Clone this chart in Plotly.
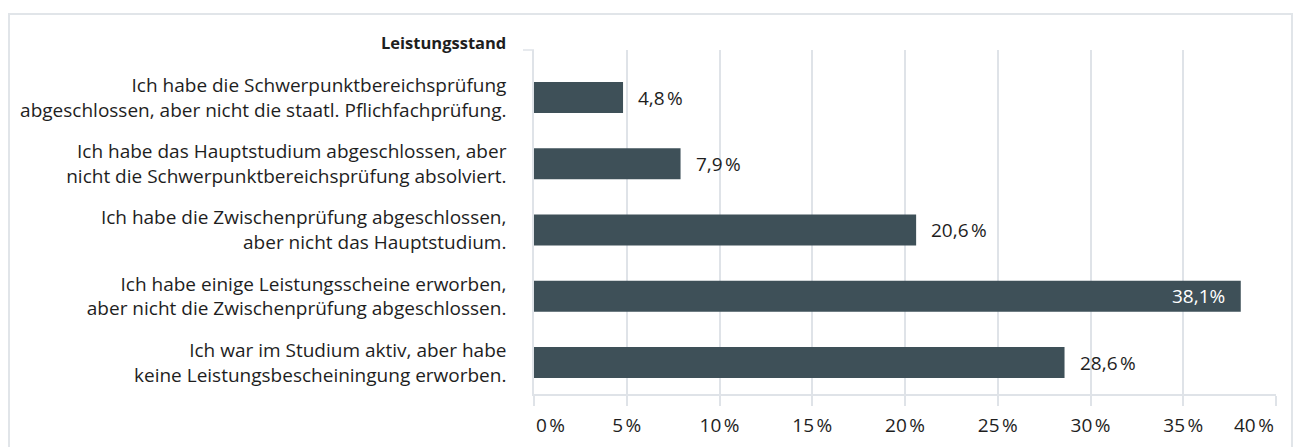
import plotly.graph_objects as go

# Survey result: progress of studies at time of dropout
categories = [
    "Ich habe die Schwerpunktbereichsprüfung<br>abgeschlossen, aber nicht die staatl. Pflichfachprüfung.",
    "Ich habe das Hauptstudium abgeschlossen, aber<br>nicht die Schwerpunktbereichsprüfung absolviert.",
    "Ich habe die Zwischenprüfung abgeschlossen,<br>aber nicht das Hauptstudium.",
    "Ich habe einige Leistungsscheine erworben,<br>aber nicht die Zwischenprüfung abgeschlossen.",
    "Ich war im Studium aktiv, aber habe<br>keine Leistungsbescheiningung erworben.",
]
values = [4.8, 7.9, 20.6, 38.1, 28.6]
value_labels = ["4,8\u202f%", "7,9\u202f%", "20,6\u202f%", "38,1%", "28,6\u202f%"]
inside_label = [False, False, False, True, False]

x_ticks = [0, 5, 10, 15, 20, 25, 30, 35, 40]
x_ticklabels = ["0\u202f%", "5\u202f%", "10\u202f%", "15\u202f%", "20\u202f%",
                "25\u202f%", "30\u202f%", "35\u202f%", "40\u202f%"]

axis_title = "Leistungsstand"

BAR = "#3e5058"
GRID = "#dfe3e8"
TEXT = "#1e1e1e"
FONT = "Open Sans"
FS = 19

W, H = 1295, 447
ML, MR, MT, MB = 534, 19, 50, 53
PW = W - ML - MR
PH = H - MT - MB

fig = go.Figure(
    go.Bar(
        x=values,
        y=categories,
        orientation="h",
        marker=dict(color=BAR, line=dict(width=0)),
        width=0.47,
        hoverinfo="skip",
    )
)

# value labels next to (or inside) each bar
for cat, v, lab, inside in zip(categories, values, value_labels, inside_label):
    fig.add_annotation(
        x=v, y=cat, xref="x", yref="y",
        text=lab, showarrow=False,
        xanchor="right" if inside else "left",
        xshift=-14 if inside else 13,
        font=dict(family=FONT, size=FS, color="white" if inside else TEXT),
    )

# end tick labels of the value axis: first aligned left, last aligned right
axis_tick_text = list(x_ticklabels)
for idx, anchor in ((0, "left"), (-1, "right")):
    fig.add_annotation(
        x=x_ticks[idx], y=0, xref="x", yref="paper",
        text=x_ticklabels[idx], showarrow=False,
        xanchor=anchor, yanchor="middle", yshift=-31,
        font=dict(family=FONT, size=FS, color=TEXT),
    )
    axis_tick_text[idx] = ""

# header above the category labels
fig.add_annotation(
    x=-26 / PW, y=1 + 7 / PH, xref="paper", yref="paper",
    text=f"<b>{axis_title}</b>", showarrow=False,
    xanchor="right", yanchor="middle",
    font=dict(family=FONT, size=16.5, color=TEXT),
)

# small tick at the top of the category axis
fig.add_shape(
    type="line", xref="paper", yref="paper",
    x0=-11 / PW, x1=0, y0=1, y1=1,
    line=dict(color=GRID, width=1.5),
)

# outer frame
fig.add_shape(
    type="rect", xref="paper", yref="paper",
    x0=(9 - ML) / PW, x1=(1292 - ML) / PW,
    y0=-(MB + 10) / PH, y1=1 + (MT - 14) / PH,
    line=dict(color="#e1e5e9", width=2),
    fillcolor="rgba(0,0,0,0)",
    layer="below",
)

fig.update_layout(
    width=W, height=H,
    margin=dict(l=ML, r=MR, t=MT, b=MB, pad=0, autoexpand=False),
    paper_bgcolor="white",
    plot_bgcolor="white",
    showlegend=False,
    font=dict(family=FONT, size=FS, color=TEXT),
)

fig.update_xaxes(
    range=[0, 40],
    tickvals=x_ticks, ticktext=axis_tick_text,
    showgrid=True, gridcolor=GRID, gridwidth=1.5,
    showline=True, linecolor=GRID, linewidth=1.5,
    ticks="outside", ticklen=10, tickcolor=GRID, tickwidth=1.5,
    ticklabelstandoff=3, ticklabeloverflow="allow",
    tickfont=dict(family=FONT, size=FS, color=TEXT),
    zeroline=False, automargin=False,
    fixedrange=True,
)

fig.update_yaxes(
    type="category",
    categoryorder="array", categoryarray=categories,
    range=[4.475, -0.717],
    showline=True, linecolor=GRID, linewidth=1.5,
    showgrid=False, zeroline=False,
    ticks="", ticklabelstandoff=22,
    tickfont=dict(family=FONT, size=FS, color=TEXT),
    automargin=False,
    fixedrange=True,
)

fig.write_html("out.html")
